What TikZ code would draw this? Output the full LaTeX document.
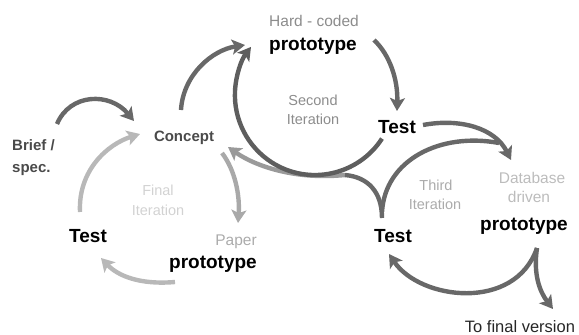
\documentclass[tikz,border=0pt]{standalone}
\usepackage{fontspec}
\setmainfont{Liberation Sans}
\usetikzlibrary{arrows.meta}
\definecolor{darkarr}{HTML}{686868}
\definecolor{midarr}{HTML}{9A9A9A}
\definecolor{lightarr}{HTML}{B8B8B8}
\definecolor{conceptc}{HTML}{4A4A4A}
\definecolor{greytxt}{HTML}{8C8C8C}
\definecolor{paletxt}{HTML}{ABABAB}
\definecolor{faint}{HTML}{D2D2D2}
\tikzset{
  arr/.style={line width=4.4pt, -{Stealth[length=13pt,width=15pt,inset=3pt]}},
  plain/.style={line width=4.4pt},
  big/.style={font=\fontsize{19}{21}\selectfont\bfseries, text=black, inner sep=0pt, anchor=base},
  med/.style={font=\fontsize{15}{17}\selectfont\bfseries, inner sep=0pt, anchor=base},
  reg/.style={font=\fontsize{15.5}{17}\selectfont, inner sep=0pt, anchor=base},
  small/.style={font=\fontsize{14.5}{16}\selectfont, inner sep=0pt, anchor=base},
}
\begin{document}
\begin{tikzpicture}[x=1pt,y=-1pt]
\useasboundingbox (0,0) rectangle (579,335);
% texts
\node[reg, text=greytxt] (hc) at (314,26) {Hard - coded};
\node[big] (hcp) at (313,50) {prototype};
\node[small, text=greytxt] (second) at (313,105) {Second};
\node[small, text=greytxt] (secondit) at (313,124) {Iteration};
\node[big] (test1) at (397,133) {Test};
\node[med, text=conceptc] (concept) at (184,141) {Concept};
\node[med, text=conceptc, anchor=base west] (brief) at (12,150) {Brief /};
\node[med, text=conceptc, anchor=base west] (spec) at (12,172) {spec.};
\node[small, text=faint] (final) at (158,195) {Final};
\node[small, text=faint] (finalit) at (158,215) {Iteration};
\node[big] (test3) at (88,242) {Test};
\node[reg, text=paletxt] (paper) at (236,245) {Paper};
\node[big] (paperp) at (213,268) {prototype};
\node[small, text=paletxt] (third) at (436,190) {Third};
\node[small, text=paletxt] (thirdit) at (435,209) {Iteration};
\node[reg, text=paletxt!80] (db) at (532,183) {Database};
\node[reg, text=paletxt!80] (dbd) at (529,202) {driven};
\node[big] (dbp) at (524,230) {prototype};
\node[big] (test2) at (393,242) {Test};
\node[reg, font=\fontsize{16.5}{18}\selectfont, text=black!85] (fv) at (520,332) {To final version};
% connector end points
\coordinate (kA) at (57,124);   \coordinate (kB) at (134,121);
\coordinate (lA) at (181,110);  \coordinate (lB) at (245,45);
\coordinate (aA) at (374,40);   \coordinate (aB) at (397,111);
\coordinate (cA) at (382,138.6);
\coordinate (bA) at (423,125);  \coordinate (bB) at (511,160);
\coordinate (eA) at (382,212);  \coordinate (eB) at (499,143);
\coordinate (dA) at (382,218);  \coordinate (fork) at (345,175);
\coordinate (dB) at (228,147);
\coordinate (fA) at (537,248);  \coordinate (fB) at (389,254);
\coordinate (gB) at (553,309);
\coordinate (hA) at (222,153);  \coordinate (hB) at (238,223);
\coordinate (iA) at (175,282);  \coordinate (iB) at (101,258);
\coordinate (jA) at (80,212);   \coordinate (jB) at (140,134);
% final iteration (light)
\draw[arr, midarr!85] (hA) .. controls (235,170) and (240,195) .. (hB);
\draw[arr, lightarr] (iA) .. controls (140,285) and (118,276) .. (iB);
\draw[arr, lightarr] (jA) .. controls (78,170) and (108,144) .. (jB);
% return to concept (grey)
\draw[arr, midarr] (fork) .. controls (295,180) and (255,166) .. (dB);
\draw[plain, darkarr] (dA) .. controls (382,192) and (368,177) .. (fork);
% brief -> concept -> hard-coded
\draw[arr, darkarr] (kA) .. controls (70,93) and (110,92) .. (kB);
\draw[arr, darkarr] (lA) .. controls (183,75) and (212,50) .. (lB);
% second iteration
\draw[arr, darkarr] (aA) .. controls (390,55) and (398,80) .. (aB);
\draw[arr, darkarr!90!black] (cA) arc[start angle=33, end angle=217, radius=80];
% third iteration
\draw[arr, darkarr] (bA) .. controls (460,118) and (495,128) .. (bB);
\draw[plain, darkarr] (eA) .. controls (385,160) and (440,132) .. (eB);
\draw[arr, darkarr] (fA) .. controls (515,312) and (420,300) .. (fB);
\draw[arr, darkarr] (fA) .. controls (533,275) and (540,292) .. (gB);
\end{tikzpicture}
\end{document}
